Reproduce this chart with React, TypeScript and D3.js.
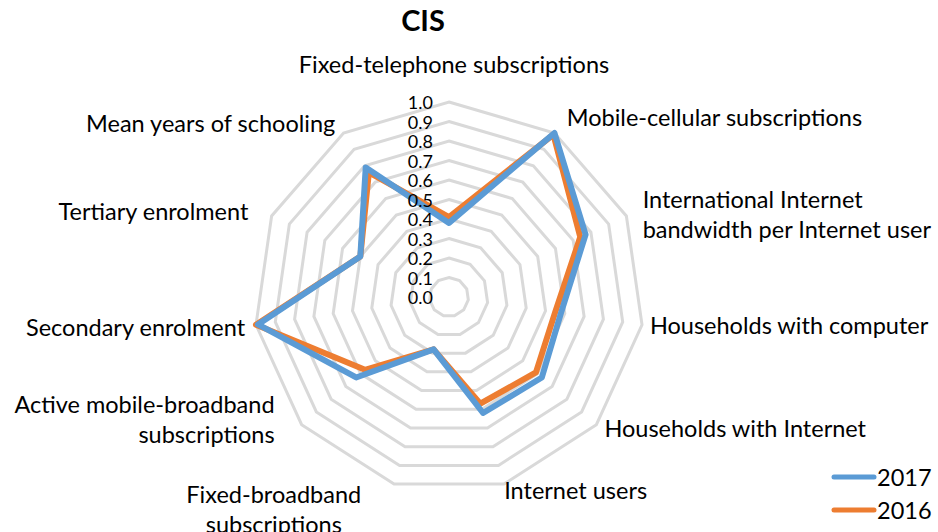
import React from "react";
import * as d3 from "d3";

const categories = [
  "Fixed-telephone subscriptions",
  "Mobile-cellular subscriptions",
  "International Internet bandwidth per Internet user",
  "Households with computer",
  "Households with Internet",
  "Internet users",
  "Fixed-broadband subscriptions",
  "Active mobile-broadband subscriptions",
  "Secondary enrolment",
  "Tertiary enrolment",
  "Mean years of schooling",
];
const categoryLines = [
  ["Fixed-telephone subscriptions"],
  ["Mobile-cellular subscriptions"],
  ["International Internet", "bandwidth per Internet user"],
  ["Households with computer"],
  ["Households with Internet"],
  ["Internet users"],
  ["Fixed-broadband", "subscriptions"],
  ["Active mobile-broadband", "subscriptions"],
  ["Secondary enrolment"],
  ["Tertiary enrolment"],
  ["Mean years of schooling"],
];
const values2017 = [0.38, 1.0, 0.77, 0.58, 0.63, 0.62, 0.28, 0.63, 0.99, 0.5, 0.79];
const values2016 = [0.41, 0.99, 0.74, 0.55, 0.59, 0.57, 0.28, 0.57, 1.0, 0.5, 0.76];
const tickValues = [0, 0.1, 0.2, 0.3, 0.4, 0.5, 0.6, 0.7, 0.8, 0.9, 1.0];
const seriesNames = ["2017", "2016"];
const title = "CIS";

// ---- layout (not data) ----
const W = 938;
const H = 532;
const cx = 449;
const cy = 297;
const R = 195;
const FONT = "Lato, 'Open Sans', sans-serif";
const LABEL_SIZE = 23.5;
const TICK_SIZE = 18;
const LINE_H = 30;
const colors = ["#5b9bd5", "#ed7d31"];
// per-label text alignment and small placement nudges (Excel-like label layout)
const labelAlign = ["middle", "start", "start", "start", "start", "start", "middle", "end", "end", "end", "end"];
const labelNudge: [number, number][] = [
  [5, -30],
  [8, -9],
  [9, 1],
  [0, -1],
  [2, -2],
  [-2, -2],
  [-118, 17],
  [-21, -11],
  [-3, 1],
  [-16, -2],
  [-4, -3],
];

export default function App() {
  const n = categories.length;
  const r = d3.scaleLinear().domain([0, 1]).range([0, R]);
  const angle = d3.scaleLinear().domain([0, n]).range([0, 2 * Math.PI]);
  const idx = d3.range(n);

  const ring = (v: number) =>
    d3
      .lineRadial<number>()
      .angle((i) => angle(i))
      .radius(() => r(v))
      .curve(d3.curveLinearClosed)(idx) as string;

  const seriesPath = (vals: number[]) =>
    d3
      .lineRadial<number>()
      .angle((i) => angle(i))
      .radius((i) => r(vals[i]))
      .curve(d3.curveLinearClosed)(idx) as string;

  const labelEls = categoryLines.map((lines, i) => {
    const a = angle(i);
    const s = Math.sin(a);
    const c = Math.cos(a);
    const gap = 8;
    const px = cx + (R + gap) * s + labelNudge[i][0];
    const py = cy - (R + gap) * c + labelNudge[i][1];
    const blockH = lines.length * LINE_H;
    const firstY = py - blockH / 2 + LINE_H / 2;
    return (
      <text
        key={categories[i]}
        x={px}
        textAnchor={labelAlign[i]}
        fontSize={LABEL_SIZE}
        fontFamily={FONT}
        fill="#000"
      >
        {lines.map((ln, j) => (
          <tspan key={j} x={px} y={firstY + j * LINE_H} dominantBaseline="central">
            {ln}
          </tspan>
        ))}
      </text>
    );
  });

  return (
    <svg
      width={W}
      height={H}
      style={{ position: "absolute", left: 0, top: 0, background: "#fff" }}
    >
      <rect width={W} height={H} fill="#fff" />
      <text
        x={423}
        y={31}
        textAnchor="middle"
        fontFamily={FONT}
        fontWeight="bold"
        fontSize={29}
      >
        {title}
      </text>
      <g transform={`translate(${cx},${cy})`}>
        {tickValues.slice(1).map((v) => (
          <path key={v} d={ring(v)} fill="none" stroke="#d9d9d9" strokeWidth={3} />
        ))}
        <path
          d={seriesPath(values2016)}
          fill="none"
          stroke={colors[1]}
          strokeWidth={6}
          strokeLinejoin="round"
        />
        <path
          d={seriesPath(values2017)}
          fill="none"
          stroke={colors[0]}
          strokeWidth={6}
          strokeLinejoin="round"
        />
        {tickValues.map((v) => (
          <text
            key={v}
            x={-16}
            y={-r(v)}
            textAnchor="end"
            dominantBaseline="central"
            fontFamily={FONT}
            fontSize={TICK_SIZE}
          >
            {v.toFixed(1)}
          </text>
        ))}
      </g>
      {labelEls}
      {seriesNames.map((name, i) => (
        <g key={name} transform={`translate(0,${477 + i * 33})`}>
          <line x1={834} x2={874} y1={0} y2={0} stroke={colors[i]} strokeWidth={5} strokeLinecap="round" />
          <text x={877} y={0} dominantBaseline="central" fontFamily={FONT} fontSize={LABEL_SIZE}>
            {name}
          </text>
        </g>
      ))}
    </svg>
  );
}
